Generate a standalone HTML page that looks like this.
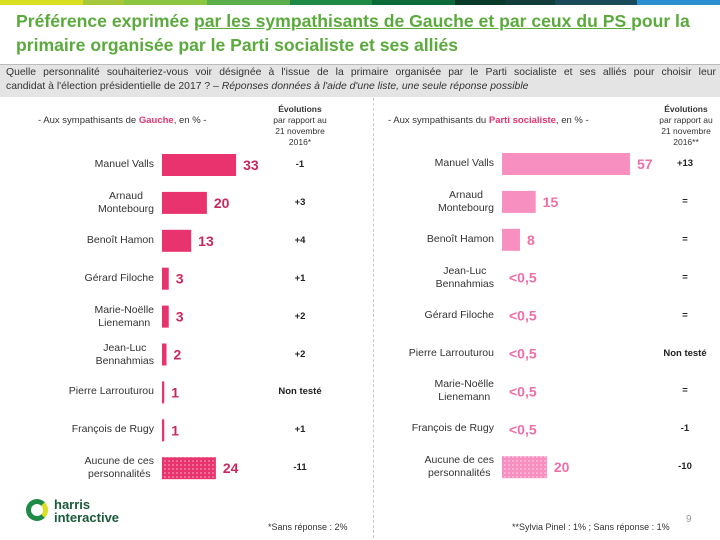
<!DOCTYPE html>
<html><head><meta charset="utf-8"><style>
body{margin:0;width:720px;height:540px;background:#fff;font-family:"Liberation Sans",sans-serif;position:relative;overflow:hidden}
.t{position:absolute;white-space:nowrap}
</style></head><body>
<div style="position:absolute;left:0;top:0;width:720px;height:5px;display:flex">
<div style="flex:1;background:#d9e021"></div><div style="flex:0.5;background:#a6c83a"></div><div style="flex:1;background:#8cc63f"></div><div style="flex:1;background:#5bb04a"></div><div style="flex:1;background:#1e8a45"></div><div style="flex:1;background:#0d6b3a"></div><div style="flex:0.6;background:#0a3a2a"></div><div style="flex:0.6;background:#123d3a"></div><div style="flex:1;background:#1b4a5a"></div><div style="flex:1;background:#2a90d0"></div></div>
<div class="t" style="left:16px;top:9px;font-size:17.6px;font-weight:bold;color:#5aaa3c;line-height:24px;white-space:normal;width:704px">Préférence exprimée <u>par les sympathisants de Gauche et par ceux du PS </u>pour la primaire organisée par le Parti socialiste et ses alliés</div>
<div style="position:absolute;left:0;top:64px;width:720px;height:32px;background:#e4e4e4;border-top:1px solid #bbb"></div>
<div class="t" style="left:6px;top:66px;width:710px;font-size:10.4px;line-height:14px;color:#333">
<div style="text-align:justify;text-align-last:justify;white-space:normal">Quelle personnalité souhaiteriez-vous voir désignée à l'issue de la primaire organisée par le Parti socialiste et ses alliés pour choisir leur</div>
<div>candidat à l'élection présidentielle de 2017 ? – <i>Réponses données à l'aide d'une liste, une seule réponse possible</i></div></div>
<div style="position:absolute;left:373px;top:98px;height:440px;border-left:1px dashed #ccc"></div>
<div class="t" style="left:38px;top:115px;font-size:9.5px;color:#333">- Aux sympathisants de <b style="color:#e8336e">Gauche</b>, en % -</div>
<div class="t" style="left:388px;top:115px;font-size:9.5px;color:#333">- Aux sympathisants du <b style="color:#e8336e">Parti socialiste</b>, en % -</div>
<div class="t" style="left:268px;top:104px;width:64px;text-align:center;font-size:8.5px;line-height:11px;color:#333;white-space:normal"><b>Évolutions</b><br>par rapport au<br>21 novembre<br>2016*</div>
<div class="t" style="left:654px;top:104px;width:64px;text-align:center;font-size:8.5px;line-height:11px;color:#333;white-space:normal"><b>Évolutions</b><br>par rapport au<br>21 novembre<br>2016**</div>
<svg width="720" height="540" style="position:absolute;left:0;top:0">
<defs>
<pattern id="d1" width="4" height="4" patternUnits="userSpaceOnUse"><rect width="4" height="4" fill="#e8336e"/><circle cx="1" cy="1" r="0.6" fill="#fff"/></pattern>
<pattern id="d2" width="4" height="4" patternUnits="userSpaceOnUse"><rect width="4" height="4" fill="#f78fc0"/><circle cx="1" cy="1" r="0.6" fill="#fff"/></pattern>
</defs>
<g id="left"></g><g id="right"></g>
</svg>
<div id="labels"></div>
<div style="position:absolute;left:26px;top:499px;width:22px;height:22px;border-radius:50%;border:5px solid #1e8a45;border-right-color:#d9e021;box-sizing:border-box"></div>
<div class="t" style="left:54px;top:498px;font-size:13px;font-weight:bold;color:#1a5a3a;line-height:13px">harris<br>interactive</div>
<div class="t" style="left:268px;top:522px;font-size:9px;color:#333">*Sans réponse : 2%</div>
<div class="t" style="left:512px;top:522px;font-size:9px;color:#333">**Sylvia Pinel : 1% ; Sans réponse : 1%</div>
<div class="t" style="left:686px;top:514px;font-size:10px;color:#999">9</div>
<script>
const leftNames=["Manuel Valls","Arnaud<br>Montebourg","Benoît Hamon","Gérard Filoche","Marie-Noëlle<br>Lienemann","Jean-Luc<br>Bennahmias","Pierre Larrouturou","François de Rugy","Aucune de ces<br>personnalités"];
const leftValues=[33,20,13,3,3,2,1,1,24];
const leftLabels=["33","20","13","3","3","2","1","1","24"];
const leftEvol=["-1","+3","+4","+1","+2","+2","Non testé","+1","-11"];
const rightNames=["Manuel Valls","Arnaud<br>Montebourg","Benoît Hamon","Jean-Luc<br>Bennahmias","Gérard Filoche","Pierre Larrouturou","Marie-Noëlle<br>Lienemann","François de Rugy","Aucune de ces<br>personnalités"];
const rightValues=[57,15,8,0,0,0,0,0,20];
const rightLabels=["57","15","8","<0,5","<0,5","<0,5","<0,5","<0,5","20"];
const rightEvol=["+13","=","=","=","=","Non testé","=","-1","-10"];
const NS="http://www.w3.org/2000/svg";
const lab=document.getElementById('labels');
function draw(g,names,vals,labs,evs,x0,y0,fill,pat,txtCol,evX,side){
  const sx=v=>v*2.245, rowY=i=>y0+i*37.9;
  vals.forEach((v,i)=>{
    const cy=rowY(i);
    const last=i===vals.length-1;
    if(v>0){const r=document.createElementNS(NS,'rect');
      r.setAttribute('x',x0);r.setAttribute('y',cy-11);r.setAttribute('width',sx(v));r.setAttribute('height',22);
      r.setAttribute('fill',last?pat:fill);
      
      
      g.appendChild(r);}
    const t=document.createElementNS(NS,'text');
    t.setAttribute('x',x0+sx(v)+7);t.setAttribute('y',cy+5);t.setAttribute('font-size','14');t.setAttribute('font-weight','bold');
    t.setAttribute('fill',txtCol);t.setAttribute('font-family','Liberation Sans, sans-serif');t.textContent=labs[i];
    
    
    g.appendChild(t);
    const n=document.createElement('div');n.className='t';
    n.style.cssText=`right:${720-x0+8}px;top:${cy-(names[i].includes('<br>')?13:7)}px;font-size:10.5px;line-height:13px;text-align:center;color:#333`;
    n.innerHTML=names[i];
    
    
    lab.appendChild(n);
    const e=document.createElement('div');e.className='t';
    e.style.cssText=`left:${evX-40}px;width:80px;top:${cy-6}px;font-size:9.5px;font-weight:bold;text-align:center;color:#222`;
    e.textContent=evs[i];
    
    
    lab.appendChild(e);
  });
}
draw(document.getElementById('left'),leftNames,leftValues,leftLabels,leftEvol,162,165,'#e8336e','url(#d1)','#c8285f',300,'left');
draw(document.getElementById('right'),rightNames,rightValues,rightLabels,rightEvol,502,164,'#f78fc0','url(#d2)','#f06eaa',685,'right');
</script>
</body></html>
